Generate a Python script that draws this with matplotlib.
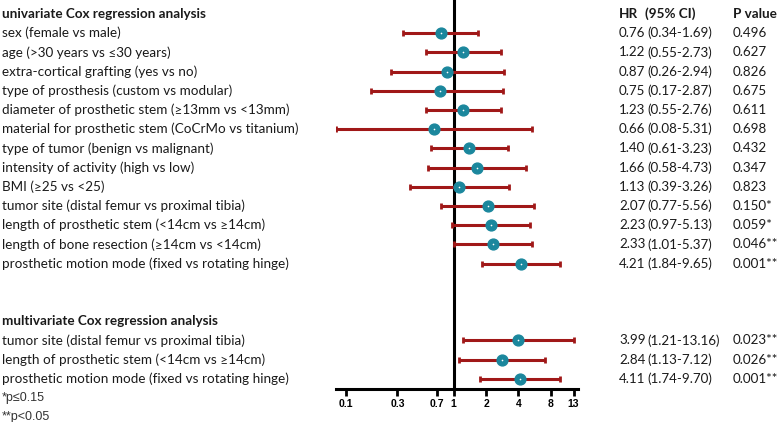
import matplotlib.pyplot as plt
import matplotlib.transforms as mtransforms

plt.rcParams['font.family'] = ['Lato', 'DejaVu Sans']

uni_labels = ['sex (female vs male)',
              'age (>30 years vs \u226430 years)',
              'extra-cortical grafting (yes vs no)',
              'type of prosthesis (custom vs modular)',
              'diameter of prosthetic stem (\u226513mm vs <13mm)',
              'material for prosthetic stem (CoCrMo vs titanium)',
              'type of tumor (benign vs malignant)',
              'intensity of activity (high vs low)',
              'BMI (\u226525 vs <25)',
              'tumor site (distal femur vs proximal tibia)',
              'length of prosthetic stem (<14cm vs \u226514cm)',
              'length of bone resection (\u226514cm vs <14cm)',
              'prosthetic motion mode (fixed vs rotating hinge)']
uni_hr = [0.76, 1.22, 0.87, 0.75, 1.23, 0.66, 1.40, 1.66, 1.13, 2.07, 2.23, 2.33, 4.21]
uni_lo = [0.34, 0.55, 0.26, 0.17, 0.55, 0.08, 0.61, 0.58, 0.39, 0.77, 0.97, 1.01, 1.84]
uni_hi = [1.69, 2.73, 2.94, 2.87, 2.76, 5.31, 3.23, 4.73, 3.26, 5.56, 5.13, 5.37, 9.65]
uni_p = ['0.496', '0.627', '0.826', '0.675', '0.611', '0.698', '0.432', '0.347', '0.823',
         '0.150*', '0.059*', '0.046**', '0.001**']

multi_labels = ['tumor site (distal femur vs proximal tibia)',
                'length of prosthetic stem (<14cm vs \u226514cm)',
                'prosthetic motion mode (fixed vs rotating hinge)']
multi_hr = [3.99, 2.84, 4.11]
multi_lo = [1.21, 1.13, 1.74]
multi_hi = [13.16, 7.12, 9.70]
multi_p = ['0.023**', '0.026**', '0.001**']

ticks = [0.1, 0.3, 0.7, 1, 2, 4, 8, 13]
tick_labels = ['0.1', '0.3', '0.7', '1', '2', '4', '8', '13']

W, H = 778, 422
fig = plt.figure(figsize=(W / 100, H / 100), dpi=100)
ax = fig.add_axes([335.7 / W, (H - 389) / H, (578.3 - 335.7) / W, 389 / H])
ax.set_xscale('log')
ax.set_xlim(0.08, 14.4)
ax.set_ylim(19.53, -0.73)

uni_rows = list(range(1, 1 + len(uni_hr)))
multi_rows = list(range(17, 17 + len(multi_hr)))

red = '#a01818'
teal = '#1b879d'
ax.axvline(1, color='black', lw=2.2, zorder=1)
for rows, hr, lo, hi in [(uni_rows, uni_hr, uni_lo, uni_hi),
                         (multi_rows, multi_hr, multi_lo, multi_hi)]:
    xerr = [[h - l for h, l in zip(hr, lo)], [u - h for h, u in zip(hr, hi)]]
    ax.errorbar(hr, rows, xerr=xerr, fmt='none', ecolor=red, elinewidth=2.2,
                capsize=2.4, capthick=2, zorder=2)
    ax.plot(hr, rows, 'o', color=teal, ms=7.8, mec=teal, zorder=3)
    ax.plot(hr, rows, 'o', color='white', ms=1.2, mew=0, zorder=4)

for s in ['top', 'left', 'right']:
    ax.spines[s].set_visible(False)
ax.spines['bottom'].set_linewidth(2.2)
ax.set_yticks([])
ax.set_xticks(ticks)
ax.set_xticklabels(tick_labels, fontfamily='Liberation Sans', fontweight='bold', fontsize=7.5)
ax.minorticks_off()
ax.tick_params(axis='x', length=5, width=2, pad=2)

tr = mtransforms.blended_transform_factory(fig.transFigure, ax.transData)
tc = '#1a1a1a'
fs = 9.7
nfs = 9.6
xl, xhr, xci, xp = 2 / W, 619 / W, 647 / W, 733 / W

ax.text(xl, 0, 'univariate Cox regression analysis', transform=tr, fontsize=fs,
        fontweight='bold', va='center', color=tc)
ax.text(xhr, 0, 'HR', transform=tr, fontsize=fs, fontweight='bold', va='center', color=tc)
ax.text(xci - 2 / W, 0, '(95% CI)', transform=tr, fontsize=fs, fontweight='bold', va='center', color=tc)
ax.text(xp, 0, 'P value', transform=tr, fontsize=fs, fontweight='bold', va='center', color=tc)
ax.text(xl, 16, 'multivariate Cox regression analysis', transform=tr, fontsize=fs,
        fontweight='bold', va='center', color=tc)

for rows, labels, hr, lo, hi, p in [(uni_rows, uni_labels, uni_hr, uni_lo, uni_hi, uni_p),
                                    (multi_rows, multi_labels, multi_hr, multi_lo, multi_hi, multi_p)]:
    for r, lab, h, l, u, pv in zip(rows, labels, hr, lo, hi, p):
        ax.text(xl, r, lab, transform=tr, fontsize=fs, va='center', color=tc)
        ax.text(xhr, r, '%.2f' % h, transform=tr, fontsize=nfs, va='center', color=tc)
        ax.text(xci, r, '(%.2f-%.2f)' % (l, u), transform=tr, fontsize=nfs, va='center', color=tc)
        ax.text(xp, r, pv, transform=tr, fontsize=nfs, va='center', color=tc)

ax.text(xl, 20, '*p\u22640.15', transform=tr, fontsize=9, va='center', color='#333333',
        fontfamily='Liberation Sans')
ax.text(xl, 21, '**p<0.05', transform=tr, fontsize=9, va='center', color='#333333',
        fontfamily='Liberation Sans')

fig.savefig('out.png', dpi=100)
